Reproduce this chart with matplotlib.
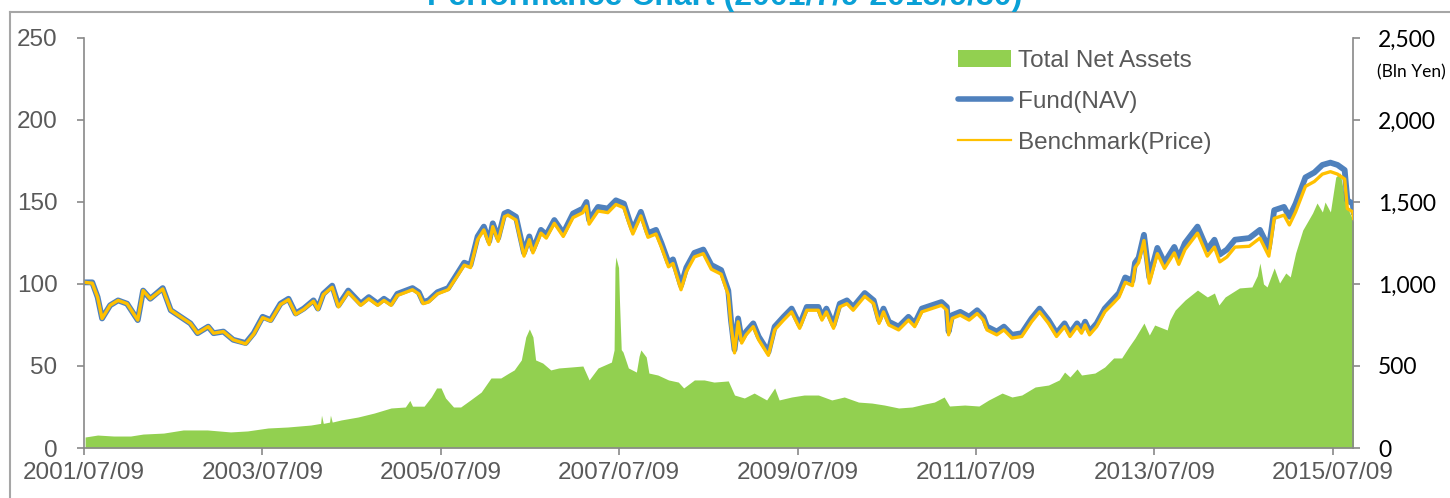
import numpy as np
import pandas as pd
import matplotlib
matplotlib.use('Agg')
import matplotlib.pyplot as plt
from matplotlib.patches import Patch
from matplotlib.lines import Line2D
from matplotlib.ticker import FuncFormatter

# decimal-year positions and values
nav_years = [2001.53, 2001.61, 2001.67, 2001.72, 2001.81, 2001.90, 2002.00, 2002.12, 2002.18, 2002.26,
             2002.40, 2002.49, 2002.60, 2002.71, 2002.79, 2002.91, 2002.97, 2003.08, 2003.19, 2003.33,
             2003.42, 2003.52, 2003.61, 2003.72, 2003.81, 2003.89, 2003.98, 2004.09, 2004.14, 2004.20,
             2004.30, 2004.37, 2004.48, 2004.62, 2004.71, 2004.81, 2004.88, 2004.96, 2005.03, 2005.20,
             2005.27, 2005.32, 2005.38, 2005.48, 2005.60, 2005.71, 2005.78, 2005.85, 2005.93, 2006.00,
             2006.06, 2006.10, 2006.16, 2006.23, 2006.27, 2006.36, 2006.45, 2006.51, 2006.55, 2006.64,
             2006.70, 2006.79, 2006.89, 2007.00, 2007.11, 2007.15, 2007.18, 2007.28, 2007.39, 2007.48,
             2007.57, 2007.63, 2007.67, 2007.76, 2007.84, 2007.93, 2007.99, 2008.07, 2008.12, 2008.21,
             2008.27, 2008.36, 2008.46, 2008.55, 2008.66, 2008.74, 2008.77, 2008.81, 2008.85, 2008.89,
             2008.94, 2009.02, 2009.08, 2009.19, 2009.26, 2009.36, 2009.45, 2009.54, 2009.62, 2009.75,
             2009.79, 2009.84, 2009.92, 2009.99, 2010.07, 2010.14, 2010.27, 2010.37, 2010.43, 2010.48,
             2010.54, 2010.65, 2010.76, 2010.83, 2010.91, 2011.02, 2011.13, 2011.19, 2011.21, 2011.25,
             2011.34, 2011.44, 2011.53, 2011.60, 2011.64, 2011.75, 2011.83, 2011.92, 2012.03, 2012.14,
             2012.23, 2012.33, 2012.42, 2012.51, 2012.57, 2012.65, 2012.70, 2012.74, 2012.79, 2012.87,
             2012.96, 2013.06, 2013.12, 2013.19, 2013.27, 2013.30, 2013.34, 2013.40, 2013.46, 2013.55,
             2013.63, 2013.74, 2013.79, 2013.86, 2014.00, 2014.11, 2014.19, 2014.25, 2014.33, 2014.42,
             2014.58, 2014.70, 2014.80, 2014.86, 2014.97, 2015.03, 2015.10, 2015.21, 2015.31, 2015.40,
             2015.49, 2015.57, 2015.65, 2015.68, 2015.74, 2015.75]

fund = [101, 101, 92, 79, 87, 90, 88, 78, 96, 91,
        97.5, 84, 80, 76, 70, 74, 70, 71, 66, 64,
        70, 80, 78, 88, 91, 82, 85, 90, 85, 94,
        99, 87, 96, 88, 92, 88, 91, 88, 94, 97.5,
        95, 89, 90, 95, 97.5, 107, 113, 111.6, 129, 135,
        126, 137, 128, 143, 144, 141, 119, 129, 121, 133,
        130, 139, 131, 143, 146, 150, 139, 147, 146, 151,
        149, 139, 133, 144, 131, 133, 125, 113, 115, 99,
        110, 119, 121, 111.6, 108.5, 96, 78, 60, 79, 66,
        71, 76, 68, 58.5, 74, 80, 85, 75, 86, 86,
        80, 85, 75, 88, 90, 86, 94.5, 90, 78, 85,
        77, 74, 80, 76, 85, 87, 89, 86, 71, 81,
        83, 80, 84, 80, 74, 71, 74, 69, 70, 79,
        85, 78, 70, 76, 70, 76, 72, 77, 71, 76,
        85, 91, 94.5, 104, 102, 113, 116, 130, 104, 122,
        113, 122.6, 116, 125, 135, 121, 127, 118, 121, 127,
        128, 133, 122, 145, 147, 141, 149, 165, 168, 172.6,
        174, 172.6, 169.5, 151, 149, 144]

benchmark = [101, 100.5, 92, 79, 87, 90, 88, 78, 96, 91,
             97, 84, 80, 76, 70, 74, 70, 71, 66, 63.5,
             69.5, 79.5, 77.5, 87.5, 90.5, 81.5, 84.5, 89.5, 84.5, 93.5,
             98, 86, 95, 87, 91, 87, 90, 87, 93, 96.5,
             94, 88, 89, 94, 96.5, 105.5, 111.5, 110, 127, 133,
             124, 135, 126, 141, 142, 139, 117, 127, 119, 131,
             128, 137, 129, 140.5, 143.5, 147.5, 136.5, 144.5, 143.5, 148.5,
             146.5, 136.5, 130.5, 141.5, 128.5, 130.5, 122.5, 110.5, 112.5, 96.5,
             107.5, 116.5, 118.5, 109, 106, 93.5, 75.5, 58, 77, 64,
             69, 74, 66, 56.5, 72, 78, 83, 73, 84, 84,
             78, 83, 73, 86, 88, 84, 92.5, 88, 76, 83,
             75, 72, 78, 74, 83, 85, 87, 84, 69, 79,
             81, 78, 82, 78, 72, 69, 72, 67, 68, 77,
             83, 76, 68, 74, 68, 74, 70, 75, 69, 74,
             83, 88.5, 92, 101, 99, 110, 113, 126.5, 100.5, 118.5,
             109.5, 119, 112, 121, 131, 117, 122.5, 113.5, 116.5, 122.5,
             123, 128, 117, 140, 142, 136, 144, 159.5, 162.5, 167,
             168.5, 167, 164, 146, 144, 140]

tna_years = [2001.53, 2001.67, 2001.85, 2002.04, 2002.18, 2002.41, 2002.63, 2002.90, 2003.16, 2003.35,
             2003.58, 2003.80, 2004.06, 2004.17, 2004.18, 2004.20, 2004.27, 2004.28, 2004.30, 2004.40,
             2004.59, 2004.77, 2004.96, 2005.12, 2005.17, 2005.20, 2005.33, 2005.41, 2005.47, 2005.52,
             2005.57, 2005.66, 2005.74, 2005.85, 2005.97, 2006.08, 2006.19, 2006.28, 2006.34, 2006.42,
             2006.47, 2006.51, 2006.55, 2006.58, 2006.66, 2006.75, 2006.84, 2006.98, 2007.11, 2007.18,
             2007.28, 2007.43, 2007.46, 2007.47, 2007.48, 2007.51, 2007.52, 2007.54, 2007.56, 2007.62,
             2007.71, 2007.74, 2007.76, 2007.82, 2007.85, 2007.95, 2008.07, 2008.18, 2008.24, 2008.36,
             2008.47, 2008.58, 2008.74, 2008.81, 2008.92, 2009.03, 2009.17, 2009.26, 2009.31, 2009.45,
             2009.59, 2009.75, 2009.90, 2010.04, 2010.20, 2010.35, 2010.49, 2010.65, 2010.80, 2010.94,
             2011.05, 2011.16, 2011.22, 2011.39, 2011.55, 2011.66, 2011.81, 2011.92, 2012.03, 2012.18,
             2012.33, 2012.45, 2012.51, 2012.57, 2012.65, 2012.70, 2012.85, 2012.96, 2013.06, 2013.15,
             2013.23, 2013.30, 2013.40, 2013.46, 2013.52, 2013.66, 2013.69, 2013.75, 2013.86, 2014.00,
             2014.11, 2014.19, 2014.24, 2014.31, 2014.47, 2014.61, 2014.67, 2014.70, 2014.74, 2014.78,
             2014.86, 2014.92, 2014.99, 2015.04, 2015.10, 2015.18, 2015.29, 2015.34, 2015.40, 2015.43,
             2015.49, 2015.55, 2015.60, 2015.66, 2015.75]

tna = [67, 79, 73, 73, 85, 91, 110, 110, 98, 104,
       122, 128, 140, 150, 200, 150, 158, 200, 158, 171,
       189, 213, 244, 250, 290, 255, 255, 311, 366, 366,
       305, 250, 250, 293, 341, 427, 427, 457, 476, 537,
       677, 726, 677, 537, 518, 476, 488, 494, 500, 415,
       488, 524, 598, 1100, 1165, 1100, 902, 600, 585, 488,
       463, 560, 598, 555, 457, 445, 415, 402, 366, 415,
       415, 402, 409, 323, 305, 335, 293, 366, 293, 311,
       323, 323, 293, 311, 280, 274, 262, 244, 250, 268,
       280, 311, 256, 262, 256, 293, 335, 311, 323, 372,
       384, 415, 463, 433, 482, 445, 457, 494, 549, 549,
       616, 671, 762, 689, 750, 720, 780, 841, 902, 963,
       921, 945, 872, 921, 976, 982, 1050, 1128, 1000, 982,
       1098, 1006, 1067, 1043, 1189, 1329, 1433, 1494, 1439, 1500,
       1439, 1652, 1677, 1494, 1378]

xtick_dates = ['2001-07-09', '2003-07-09', '2005-07-09', '2007-07-09',
               '2009-07-09', '2011-07-09', '2013-07-09', '2015-07-09']
title = 'Performance Chart (2001/7/9-2015/9/30)'


def to_dates(years):
    years = np.asarray(years, dtype=float)
    return pd.Timestamp('2001-01-01') + pd.to_timedelta((years - 2001) * 365.25, unit='D')


plt.rcParams['font.family'] = ['Liberation Sans', 'DejaVu Sans']

W, H = 1450, 498
fig = plt.figure(figsize=(W / 100, H / 100), dpi=100)
ax = fig.add_axes([84 / W, 50 / H, 1269 / W, 410 / H])
ax2 = ax.twinx()

green = '#92D050'
blue = '#4F81BD'
yellow = '#FFC000'
spine_c = '#898989'
text_c = '#595959'

ax2.fill_between(to_dates(tna_years), tna, 0, color=green, lw=0)
ax.plot(to_dates(nav_years), fund, color=blue, lw=4.2, solid_joinstyle='round')
ax.plot(to_dates(nav_years), benchmark, color=yellow, lw=2.4, solid_joinstyle='round')
ax.set_zorder(ax2.get_zorder() + 1)
ax.patch.set_visible(False)

ax.set_xlim(pd.Timestamp('2001-07-09'), pd.Timestamp('2015-09-30'))
ax.set_ylim(0, 250)
ax2.set_ylim(0, 2500)
ax.set_yticks(range(0, 251, 50))
ax2.set_yticks(range(0, 2501, 500))
ax2.yaxis.set_major_formatter(FuncFormatter(lambda v, p: f'{int(v):,}'))
ax.set_xticks(pd.to_datetime(xtick_dates))
ax.set_xticklabels([d.replace('-', '/') for d in xtick_dates])

for a in (ax, ax2):
    a.spines['top'].set_visible(False)
    for s in ('left', 'right', 'bottom'):
        a.spines[s].set_color(spine_c)
        a.spines[s].set_linewidth(1.2)
ax.spines['right'].set_visible(False)
ax2.spines['left'].set_visible(False)
ax2.spines['bottom'].set_visible(False)

ax.tick_params(axis='y', direction='out', length=5, width=1.2, color=spine_c,
               labelsize=17.5, labelcolor=text_c, pad=14)
ax.tick_params(axis='x', direction='out', length=5, width=1.2, color=spine_c,
               labelsize=17.5, labelcolor=text_c, pad=5)
ax2.tick_params(axis='y', direction='out', length=5, width=1.2, color=spine_c,
                labelsize=16.5, labelcolor='black', pad=13)
for lab in ax2.get_yticklabels():
    lab.set_family(['Lato', 'DejaVu Sans'])

fig.text(1411 / W, 1 - 72 / H, '(Bln Yen)', ha='center', va='center',
         fontsize=12.5, family=['Lato', 'DejaVu Sans'], color='black')

fig.text(0.5, 1 - 5 / H, title, ha='center', va='baseline', fontsize=23,
         fontweight='bold', color='#0AA0D6')

# frame lines of the surrounding chart box
fig.add_artist(Line2D([10 / W, 1], [1 - 12 / H, 1 - 12 / H], transform=fig.transFigure,
                      color='#A6A6A6', lw=1.5))
fig.add_artist(Line2D([10 / W, 10 / W], [0, 1 - 12 / H], transform=fig.transFigure,
                      color='#A6A6A6', lw=1.5))

handles = [Patch(facecolor=green, edgecolor='none'),
           Line2D([], [], color=blue, lw=4.0, solid_capstyle='round'),
           Line2D([], [], color=yellow, lw=1.6)]
labels = ['Total Net Assets', 'Fund(NAV)', 'Benchmark(Price)']
leg = ax.legend(handles, labels, loc='upper left', bbox_to_anchor=(958 / W, 1 - 50 / H),
                bbox_transform=fig.transFigure, frameon=False, fontsize=17.5,
                handlelength=2.2, handletextpad=0.25, labelspacing=0.78,
                borderpad=0, borderaxespad=0)
for t in leg.get_texts():
    t.set_color(text_c)

fig.savefig('out.png', dpi=100)
